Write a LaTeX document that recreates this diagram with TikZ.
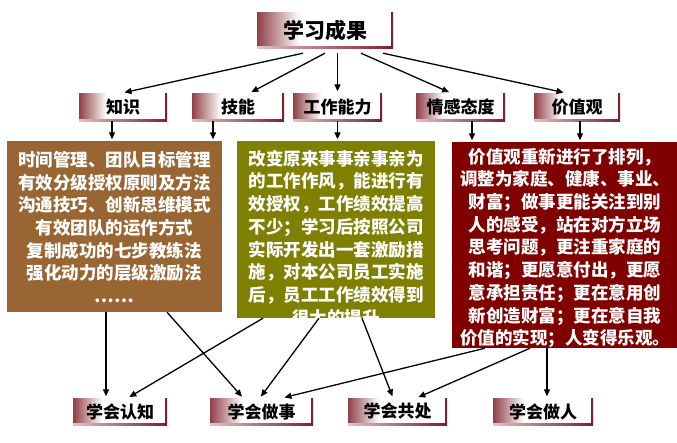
\documentclass[tikz,border=0pt]{standalone}
\usepackage{fontspec}
\newfontfamily\cjk{Noto Sans CJK SC}
\usetikzlibrary{calc,arrows.meta}
\definecolor{tm}{RGB}{125,30,40}
\definecolor{tmlight}{RGB}{225,195,198}
\definecolor{cbrown}{RGB}{153,102,51}
\definecolor{colive}{RGB}{128,128,0}
\definecolor{cred}{RGB}{128,0,0}
\begin{document}
\begin{tikzpicture}[x=1pt,y=-1pt,
  arr/.style={draw=black, line width=1.3pt, -{Triangle[length=7pt,width=6pt]}, shorten >=1.5pt},
  tbox/.style={rectangle, inner sep=0pt, minimum height=28pt,
    font=\cjk\bfseries\fontsize{17}{17}\selectfont,
    path picture={
      \shade[left color=tmlight, right color=tm]
        (path picture bounding box.south west) rectangle (path picture bounding box.north east);
      \coordinate (ppsw) at ($(path picture bounding box.south west)+(0pt,2.5pt)$);
      \coordinate (ppne) at ($(path picture bounding box.north east)+(-2.5pt,0pt)$);
      \coordinate (ppmid) at ($(ppsw)!0.32!(ppsw -| ppne)$);
      \shade[left color=tm!85, right color=white] (ppsw) rectangle (ppmid |- ppne);
      \fill[white] (ppmid) rectangle (ppne);
    }},
  cbox/.style={rectangle, inner sep=0pt},
  btxt/.style={text=white, align=center, inner sep=0pt, font=\cjk\bfseries\fontsize{17.5}{22.7}\selectfont}]
\useasboundingbox (0,0) rectangle (677,442);
\fill[white] (0,0) rectangle (677,442);

% title boxes
\node[tbox, minimum width=136pt, minimum height=36pt, font=\cjk\bfseries\fontsize{21}{21}\selectfont] (top) at (325,30) {学习成果};
\node[tbox, minimum width=88pt] (zs) at (123,107) {知识};
\node[tbox, minimum width=92pt] (jn) at (238,107) {技能};
\node[tbox, minimum width=89pt] (gz) at (337.5,107) {工作能力};
\node[tbox, minimum width=89pt] (qg) at (460.5,107) {情感态度};
\node[tbox, minimum width=86pt] (jz) at (577,107) {价值观};

% content boxes
\node[cbox, fill=cbrown, minimum width=215pt, minimum height=171pt] (brown) at (114.5,226.5) {};
\node[cbox, fill=colive, minimum width=198pt, minimum height=177pt] (olive) at (336,229.5) {};
\node[cbox, fill=cred, minimum width=225pt, minimum height=206pt] (red) at (564.5,245) {};

\node[btxt] (bt) at (114.5,227) {时间管理、团队目标管理\\有效分级授权原则及方法\\沟通技巧、创新思维模式\\有效团队的运作方式\\复制成功的七步教练法\\强化动力的层级激励法\\……};
\begin{scope}
  \clip (olive.north west) rectangle (olive.south east);
  \node[btxt] (ot) at (336,238) {改变原来事事亲事亲为\\的工作作风，能进行有\\效授权，工作绩效提高\\不少；学习后按照公司\\实际开发出一套激励措\\施，对本公司员工实施\\后，员工工作绩效得到\\很大的提升};
\end{scope}
\node[btxt] (rt) at (565,248) {价值观重新进行了排列，\\调整为家庭、健康、事业、\\财富；做事更能关注到别\\人的感受，站在对方立场\\思考问题，更注重家庭的\\和谐；更愿意付出，更愿\\意承担责任；更在意用创\\新创造财富；更在意自我\\价值的实现；人变得乐观。};

% bottom boxes
\node[tbox, minimum width=94pt, minimum height=27pt] (rz) at (120,411.5) {学会认知};
\node[tbox, minimum width=103pt, minimum height=27pt] (zsh) at (261.5,411.5) {学会做事};
\node[tbox, minimum width=99pt, minimum height=27pt] (gc) at (397.5,411.5) {学会共处};
\node[tbox, minimum width=100pt, minimum height=27pt] (zr) at (543,411.5) {学会做人};

% top arrows
\draw[arr] ($(top.south)+(-22,5)$) -- (zs.north);
\draw[arr] ($(top.south)+(0,5)$) -- ($(jn.north)+(12,0)$);
\draw[arr] ($(top.south)+(12.5,5)$) -- (gz.north);
\draw[arr] ($(top.south)+(36,5)$) -- ($(qg.north)+(-10,0)$);
\draw[arr] ($(top.south)+(58,5)$) -- ($(jz.north)+(-12,0)$);

% title to content
\coordinate (a1) at ($(zs.south)+(-11,0)$);
\coordinate (a2) at ($(jn.south)+(-25,0)$);
\coordinate (a3) at (gz.south);
\coordinate (a4) at ($(qg.south)+(11.5,0)$);
\coordinate (a5) at ($(jz.south)+(3,0)$);
\draw[arr] (a1) -- (a1 |- brown.north);
\draw[arr] (a2) -- (a2 |- brown.north);
\draw[arr] (a3) -- (a3 |- olive.north);
\draw[arr] (a4) -- (a4 |- red.north);
\draw[arr] (a5) -- (a5 |- red.north);

% content to bottom
\coordinate (c1) at ($(brown.south)+(-8.5,0)$);
\draw[arr] (c1) -- (c1 |- rz.north);
\draw[arr] ($(brown.south)+(52.5,0)$) -- ($(zsh.north)+(-18.5,0)$);
\draw[arr] ($(olive.south)+(-73,0)$) -- ($(rz.north)+(8,0)$);
\draw[arr] ($(olive.south)+(-17,0)$) -- ($(zsh.north)+(-1.5,0)$);
\draw[arr] ($(olive.south)+(26,0)$) -- ($(gc.north)+(-4.5,0)$);
\draw[arr] ($(red.south)+(-79.5,0)$) -- ($(zsh.north)+(21.5,0)$);
\draw[arr] ($(red.south)+(-34.5,0)$) -- ($(gc.north)+(19.5,0)$);
\coordinate (c8) at ($(red.south)+(-17.5,0)$);
\draw[arr] (c8) -- (c8 |- zr.north);
\end{tikzpicture}
\end{document}
